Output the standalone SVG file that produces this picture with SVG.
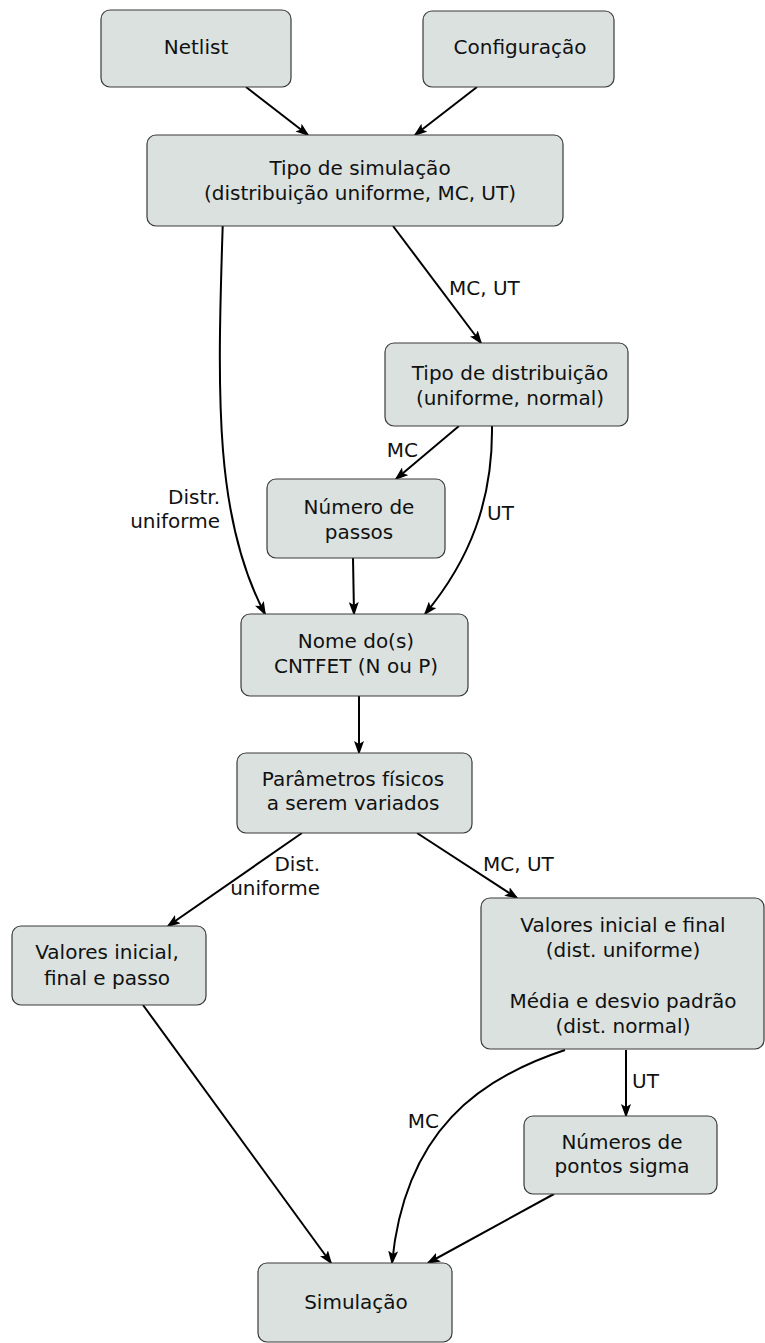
<svg xmlns="http://www.w3.org/2000/svg" width="765" height="1343" viewBox="0 0 765 1343">
<style>
.box{fill:#dae1df;stroke:#3a3a3a;stroke-width:1.2}
.t{font-family:"DejaVu Sans","Verdana",sans-serif;font-size:20px;fill:#111111;text-anchor:middle}
.l{font-family:"DejaVu Sans","Verdana",sans-serif;font-size:20px;fill:#111111}
.e{text-anchor:end}
.c{fill:none;stroke:#000;stroke-width:2}
</style>
<defs>
<marker id="ah" markerUnits="userSpaceOnUse" viewBox="0 0 14 10" refX="12" refY="5" markerWidth="14" markerHeight="10" orient="auto">
<path d="M0,0 L14,5 L0,10 L3,5 z" fill="#000"/>
</marker>
</defs>
<g id="connectors">
<line class="c" x1="246" y1="87" x2="308" y2="135" marker-end="url(#ah)"/>
<line class="c" x1="477" y1="87" x2="415" y2="135" marker-end="url(#ah)"/>
<line class="c" x1="393" y1="226" x2="481" y2="343" marker-end="url(#ah)"/>
<path class="c" d="M222.7,226 C217,400 215,520 265,614" marker-end="url(#ah)"/>
<line class="c" x1="459" y1="426" x2="396" y2="479" marker-end="url(#ah)"/>
<path class="c" d="M492,426 C493,500 470,560 425,614" marker-end="url(#ah)"/>
<line class="c" x1="353" y1="558" x2="354" y2="614" marker-end="url(#ah)"/>
<line class="c" x1="359" y1="696" x2="359" y2="753" marker-end="url(#ah)"/>
<line class="c" x1="302" y1="833" x2="168" y2="926" marker-end="url(#ah)"/>
<line class="c" x1="417" y1="833" x2="517" y2="898" marker-end="url(#ah)"/>
<line class="c" x1="626" y1="1050" x2="626" y2="1116" marker-end="url(#ah)"/>
<line class="c" x1="143" y1="1005" x2="331" y2="1263" marker-end="url(#ah)"/>
<path class="c" d="M565,1050 C480,1078 405,1130 392,1263" marker-end="url(#ah)"/>
<line class="c" x1="554" y1="1194" x2="428" y2="1263" marker-end="url(#ah)"/>
<text class="l" x="449" y="295">MC, UT</text>
<text class="l e" x="220" y="504">Distr.</text>
<text class="l e" x="220" y="528">uniforme</text>
<text class="l e" x="418" y="457">MC</text>
<text class="l" x="487" y="520">UT</text>
<text class="l e" x="320" y="871">Dist.</text>
<text class="l e" x="320" y="895">uniforme</text>
<text class="l" x="483" y="871">MC, UT</text>
<text class="l" x="632" y="1088">UT</text>
<text class="l e" x="439" y="1128">MC</text>
</g>
<g id="netlist">
<rect class="box" x="101" y="10" width="190" height="77" rx="9"/>
<text class="t" x="196" y="54">Netlist</text>
</g>
<g id="configuracao">
<rect class="box" x="423" y="11" width="191" height="76" rx="9"/>
<text class="t" x="520" y="54">Configuração</text>
</g>
<g id="tipo-simulacao">
<rect class="box" x="147" y="135" width="416" height="91" rx="9"/>
<text class="t" x="360" y="175">Tipo de simulação</text>
<text class="t" x="360" y="200">(distribuição uniforme, MC, UT)</text>
</g>
<g id="tipo-distribuicao">
<rect class="box" x="385" y="343" width="243" height="83" rx="9"/>
<text class="t" x="510" y="380">Tipo de distribuição</text>
<text class="t" x="510" y="405">(uniforme, normal)</text>
</g>
<g id="numero-passos">
<rect class="box" x="267" y="479" width="178" height="79" rx="9"/>
<text class="t" x="359" y="514">Número de</text>
<text class="t" x="359" y="539">passos</text>
</g>
<g id="nome-cntfet">
<rect class="box" x="241" y="614" width="227" height="82" rx="9"/>
<text class="t" x="356" y="648">Nome do(s)</text>
<text class="t" x="356" y="673">CNTFET (N ou P)</text>
</g>
<g id="parametros">
<rect class="box" x="237" y="753" width="235" height="80" rx="9"/>
<text class="t" x="353" y="786">Parâmetros físicos</text>
<text class="t" x="353" y="810">a serem variados</text>
</g>
<g id="valores-passo">
<rect class="box" x="12" y="926" width="194" height="79" rx="9"/>
<text class="t" x="107" y="959">Valores inicial,</text>
<text class="t" x="107" y="985">final e passo</text>
</g>
<g id="valores-media">
<rect class="box" x="481" y="898" width="283" height="151" rx="9"/>
<text class="t" x="623" y="932">Valores inicial e final</text>
<text class="t" x="623" y="957">(dist. uniforme)</text>
<text class="t" x="623" y="1008">Média e desvio padrão</text>
<text class="t" x="623" y="1033">(dist. normal)</text>
</g>
<g id="pontos-sigma">
<rect class="box" x="524" y="1116" width="193" height="78" rx="9"/>
<text class="t" x="622" y="1149">Números de</text>
<text class="t" x="622" y="1173">pontos sigma</text>
</g>
<g id="simulacao">
<rect class="box" x="258" y="1263" width="194" height="79" rx="9"/>
<text class="t" x="356" y="1309">Simulação</text>
</g>
</svg>
